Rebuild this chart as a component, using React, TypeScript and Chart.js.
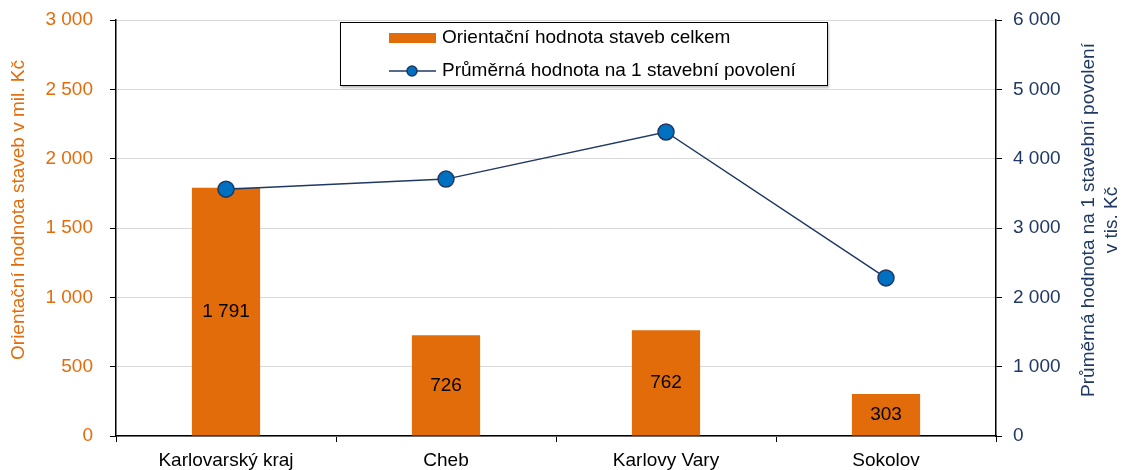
import React, { useEffect, useRef } from "react";
import { Chart, registerables } from "chart.js";
Chart.register(...registerables);

const categories = ["Karlovarský kraj", "Cheb", "Karlovy Vary", "Sokolov"];
const totalValues = [1791, 726, 762, 303];
const averageValues = [3560, 3705, 4385, 2280];
const leftTitle = "Orientační hodnota staveb v mil. Kč";
const rightTitleLines = ["Průměrná hodnota na 1 stavební povolení", "v tis. Kč"];
const legendLabels = ["Orientační hodnota staveb celkem", "Průměrná hodnota na 1 stavební povolení"];

const ORANGE = "#E36C0A";
const NAVY = "#1F3864";
const BLUE = "#0070C0";
const FONT = "'Liberation Sans', Arial, sans-serif";
const FS = 19;

const fmt = (v: number) => String(Math.round(v)).replace(/\B(?=(\d{3})+(?!\d))/g, " ");

const overlayPlugin = {
  id: "overlay",
  afterDatasetsDraw(chart: any) {
    const ctx = chart.ctx;
    const meta = chart.getDatasetMeta(0);
    ctx.save();
    ctx.fillStyle = "#000";
    ctx.font = `${FS}px ${FONT}`;
    ctx.textAlign = "center";
    ctx.textBaseline = "middle";
    meta.data.forEach((el: any, i: number) => {
      ctx.fillText(fmt(totalValues[i]), el.x, (el.y + el.base) / 2);
    });
    ctx.restore();
  },
  afterDraw(chart: any) {
    const ctx = chart.ctx;
    ctx.save();
    ctx.font = `${FS}px ${FONT}`;
    ctx.textAlign = "center";
    ctx.textBaseline = "middle";
    ctx.fillStyle = ORANGE;
    ctx.save();
    ctx.translate(19, 210);
    ctx.rotate(-Math.PI / 2);
    ctx.fillText(leftTitle, 0, 0);
    ctx.restore();
    ctx.fillStyle = NAVY;
    const rx = [1089, 1112];
    rightTitleLines.forEach((t, i) => {
      ctx.save();
      ctx.translate(rx[i], 220);
      ctx.rotate(-Math.PI / 2);
      ctx.fillText(t, 0, 0);
      ctx.restore();
    });
    // legend
    ctx.save();
    ctx.shadowColor = "rgba(0,0,0,0.25)";
    ctx.shadowOffsetX = 1;
    ctx.shadowOffsetY = 2;
    ctx.shadowBlur = 2;
    ctx.fillStyle = "#fff";
    ctx.fillRect(340, 22, 488, 64);
    ctx.restore();
    ctx.strokeStyle = "#000";
    ctx.lineWidth = 1;
    ctx.strokeRect(340.5, 22.5, 487, 63);
    ctx.fillStyle = ORANGE;
    ctx.fillRect(389, 33, 47, 10);
    ctx.strokeStyle = NAVY;
    ctx.lineWidth = 1.5;
    ctx.beginPath();
    ctx.moveTo(389, 71);
    ctx.lineTo(436, 71);
    ctx.stroke();
    ctx.beginPath();
    ctx.arc(412, 71, 5, 0, Math.PI * 2);
    ctx.fillStyle = BLUE;
    ctx.fill();
    ctx.stroke();
    ctx.fillStyle = "#000";
    ctx.textAlign = "left";
    ctx.fillText(legendLabels[0], 442, 38);
    ctx.fillText(legendLabels[1], 442, 71);
    ctx.restore();
  },
};

export default function App() {
  const ref = useRef<HTMLCanvasElement>(null);
  useEffect(() => {
    if (!ref.current) return;
    const chart = new Chart(ref.current, {
      type: "bar",
      data: {
        labels: categories,
        datasets: [
          {
            type: "bar",
            label: legendLabels[0],
            data: totalValues,
            backgroundColor: ORANGE,
            yAxisID: "y",
            categoryPercentage: 1,
            barPercentage: 0.31,
            order: 2,
          },
          {
            type: "line",
            label: legendLabels[1],
            data: averageValues,
            borderColor: NAVY,
            borderWidth: 1.5,
            pointRadius: 8,
            pointBackgroundColor: BLUE,
            pointBorderColor: NAVY,
            pointBorderWidth: 1.5,
            yAxisID: "y1",
            order: 1,
          },
        ],
      } as any,
      options: {
        animation: false,
        responsive: true,
        maintainAspectRatio: false,
        layout: { padding: { top: 20, left: 0, right: 0, bottom: 0 } },
        plugins: { legend: { display: false }, tooltip: { enabled: false } },
        scales: {
          x: {
            offset: true,
            grid: { offset: true, drawOnChartArea: false, tickLength: 6, tickColor: "#000" },
            border: { color: "#000", width: 1.5 },
            ticks: { color: "#000", font: { family: FONT, size: FS }, padding: 7 },
            afterFit: (s: any) => { s.height = 34; s.paddingLeft = 0; s.paddingRight = 0; },
          },
          y: {
            position: "left",
            min: 0,
            max: 3000,
            ticks: { stepSize: 500, color: ORANGE, font: { family: FONT, size: FS }, padding: 17, callback: (v: any) => fmt(Number(v)) },
            grid: { color: "#d9d9d9", tickColor: "#000", tickLength: 6 },
            border: { color: "#000", width: 1.5 },
            afterFit: (s: any) => { s.width = 116; s.paddingTop = 0; s.paddingBottom = 0; },
          },
          y1: {
            position: "right",
            min: 0,
            max: 6000,
            ticks: { stepSize: 1000, color: NAVY, font: { family: FONT, size: FS }, padding: 11, callback: (v: any) => fmt(Number(v)) },
            grid: { drawOnChartArea: false, tickColor: "#000", tickLength: 6 },
            border: { color: "#000", width: 1.5 },
            afterFit: (s: any) => { s.width = 126; s.paddingTop = 0; s.paddingBottom = 0; },
          },
        },
      } as any,
      plugins: [overlayPlugin],
    });
    return () => chart.destroy();
  }, []);
  return (
    <div style={{ position: "fixed", left: 0, top: 0, width: 1122, height: 470, background: "#fff" }}>
      <canvas ref={ref} />
    </div>
  );
}
